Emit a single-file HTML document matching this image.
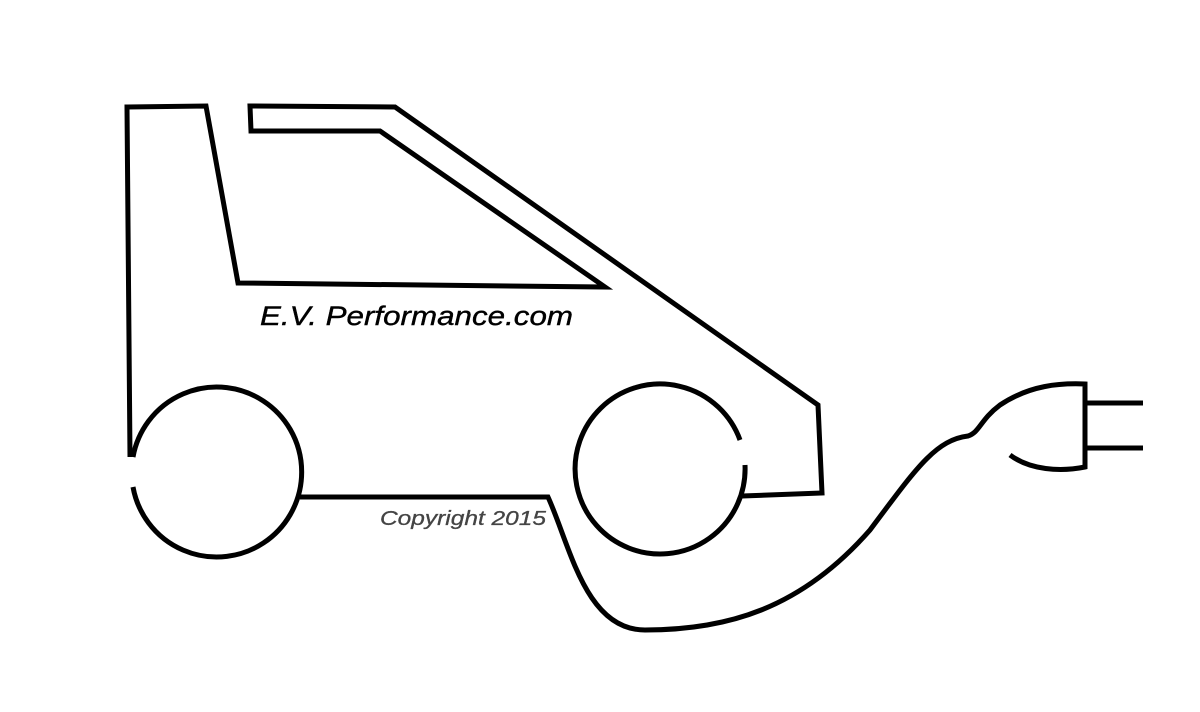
<!DOCTYPE html>
<html><head><style>html,body{margin:0;padding:0;background:#fff;}svg{display:block}</style></head>
<body>
<svg width="1200" height="712" viewBox="0 0 1200 712" xmlns="http://www.w3.org/2000/svg">
<g fill="none" stroke="#000" stroke-width="5" stroke-linejoin="miter" stroke-linecap="butt">
<path d="M130,457 L127,107 L206,106 L238,283 L605,287 L380,131 L251,131 L250,106 L395,107 L818,405 L822,493 L742,496"/>
<path d="M133,457 A85,85 0 1 1 133,487"/>
<path d="M745,465 A85,85 0 1 1 740,440"/>
<path d="M300,497 L548,497 C570,545 585,630 645,630 C725,630 800,610 870,530 C915,470 935,440 968,436 C980,432 980,420 1000,405 C1030,385 1060,383 1085,384 L1085,467 C1060,472 1030,470 1010,455"/>
<path d="M1087,403 L1143,403 M1087,448 L1143,448"/>
</g>
<text x="260" y="325" font-family="Liberation Sans, sans-serif" font-size="27" font-style="italic" fill="#000" stroke="#000" stroke-width="0.4" textLength="313" lengthAdjust="spacingAndGlyphs">E.V. Performance.com</text>
<text x="380" y="525" font-family="Liberation Sans, sans-serif" font-size="20" font-style="italic" fill="#444" stroke="#444" stroke-width="0.3" textLength="166" lengthAdjust="spacingAndGlyphs">Copyright 2015</text>
</svg>
</body></html>
